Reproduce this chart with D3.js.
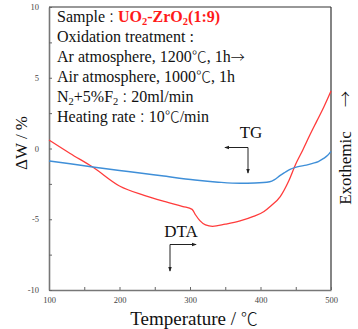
<!DOCTYPE html>
<html><head><meta charset="utf-8">
<script src="https://cdn.jsdelivr.net/npm/d3@7"></script>
<style>body{margin:0;background:#fff}svg{display:block}text{font-family:"Liberation Serif","Times New Roman",serif}.cj{font-family:"Noto Sans CJK JP";font-weight:300}</style>
</head><body><svg id="c" width="358" height="329"></svg>
<script>
const tgTemp = [100,130,162,200,229,260,307,340,371,392,413,420,428,435,442,452,465,474,482,489,495,500];
const tgVal  = [-0.88,-1.08,-1.31,-1.55,-1.73,-1.93,-2.23,-2.38,-2.46,-2.44,-2.35,-2.2,-1.9,-1.68,-1.47,-1.3,-1.17,-1.05,-0.93,-0.72,-0.5,-0.2];
const dtaTemp = [100,130,162,200,236,265,290,303,308,314,322,332,350,371,390,405,415,428,440,450,460,470,480,490,500];
const dtaVal  = [0.6,-0.35,-1.31,-2.65,-3.33,-3.76,-4.1,-4.3,-4.7,-5.1,-5.4,-5.5,-5.35,-5.12,-4.8,-4.45,-4.05,-3.4,-2.3,-1.1,-0.1,0.95,1.95,2.95,4.06];
const xTicks = [100,150,200,250,300,350,400,450,500];
const xLabels = [100,200,300,400,500];
const yTicks = [-10,-7.5,-5,-2.5,0,2.5,5,7.5,10];
const yLabels = [-10,-5,0,5,10];

const svg = d3.select("#c");
const L=49,R=331,T=7,B=290;
const x = d3.scaleLinear().domain([100,500]).range([L,R]);
const y = d3.scaleLinear().domain([-10,10]).range([B,T]);

svg.append("line").attr("x1",L).attr("x2",R).attr("y1",T).attr("y2",T).attr("stroke","#333").attr("stroke-width",1.2);
svg.append("line").attr("x1",R).attr("x2",R).attr("y1",T).attr("y2",B).attr("stroke","#333").attr("stroke-width",1.2);

const gx = svg.append("g").attr("transform",`translate(0,${B})`)
  .call(d3.axisBottom(x).tickValues(xTicks).tickSizeInner(-3).tickSizeOuter(0).tickFormat(d=>xLabels.includes(d)?String(d):""));
const gy = svg.append("g").attr("transform",`translate(${L},0)`)
  .call(d3.axisLeft(y).tickValues(yTicks).tickSizeInner(-3).tickSizeOuter(0).tickFormat(d=>yLabels.includes(d)?String(d):""));
[gx,gy].forEach(g=>{
  g.select(".domain").attr("stroke","#777").attr("stroke-width",1.6);
  g.selectAll(".tick line").attr("stroke","#666");
  g.selectAll(".tick text").attr("font-family","Liberation Serif, serif").attr("font-size",8.5).attr("fill","#444");
});
gx.selectAll(".tick text").attr("dy","1.15em");
gy.selectAll(".tick text").attr("x",-10);

const line = d3.line().x(d=>x(d[0])).y(d=>y(d[1])).curve(d3.curveMonotoneX);
svg.append("path").datum(dtaTemp.map((t,i)=>[t,dtaVal[i]])).attr("d",line)
  .attr("fill","none").attr("stroke","#ff3b3b").attr("stroke-width",1.3);
svg.append("path").datum(tgTemp.map((t,i)=>[t,tgVal[i]])).attr("d",line)
  .attr("fill","none").attr("stroke","#3f8fd8").attr("stroke-width",1.4);

const info = svg.append("g").attr("font-size",16).attr("fill","#111");
const t1 = info.append("text").attr("x",57).attr("y",22);
t1.append("tspan").text("Sample");
t1.append("tspan").text("：").attr("class","cj").attr("font-size",13);
const red = t1.append("tspan").attr("fill","#ff1a1a").attr("font-weight","bold");
red.append("tspan").text("UO");
red.append("tspan").text("2").attr("font-size",10.5).attr("dy",3);
red.append("tspan").text("-ZrO").attr("dy",-3);
red.append("tspan").text("2").attr("font-size",10.5).attr("dy",3);
red.append("tspan").text("(1:9)").attr("dy",-3);
info.append("text").attr("x",57).attr("y",42).text("Oxidation treatment :");
const t3 = info.append("text").attr("x",57).attr("y",62);
t3.append("tspan").text("Ar atmosphere, 1200");
t3.append("tspan").attr("class","cj").attr("font-size",15).text("℃");
t3.append("tspan").text(", 1h");
t3.append("tspan").attr("class","cj").attr("font-size",14).text("→");
const t4 = info.append("text").attr("x",57).attr("y",82);
t4.append("tspan").text("Air atmosphere, 1000");
t4.append("tspan").attr("class","cj").attr("font-size",15).text("℃");
t4.append("tspan").text(", 1h");
const t5 = info.append("text").attr("x",57).attr("y",102);
t5.append("tspan").text("N");
t5.append("tspan").text("2").attr("font-size",10.5).attr("dy",3);
t5.append("tspan").text("+5%F").attr("dy",-3);
t5.append("tspan").text("2").attr("font-size",10.5).attr("dy",3);
t5.append("tspan").text("：").attr("dy",-3).attr("class","cj").attr("font-size",13);
t5.append("tspan").text("20ml/min");
const t6 = info.append("text").attr("x",57).attr("y",122);
t6.append("tspan").text("Heating rate");
t6.append("tspan").text("：").attr("class","cj").attr("font-size",13);
t6.append("tspan").text("10");
t6.append("tspan").attr("class","cj").attr("font-size",15).text("℃");
t6.append("tspan").text("/min");

svg.append("defs").append("marker").attr("id","ah").attr("viewBox","0 0 6 6").attr("refX",5).attr("refY",3)
  .attr("markerWidth",5).attr("markerHeight",5).attr("orient","auto")
  .append("path").attr("d","M0,0.8L6,3L0,5.2Z").attr("fill","#222");
svg.append("text").attr("x",251).attr("y",138).attr("text-anchor","middle").attr("font-size",17).attr("fill","#111").text("TG");
svg.append("path").attr("d","M248,147.5L225,147.5").attr("stroke","#222").attr("fill","none").attr("marker-end","url(#ah)");
svg.append("path").attr("d","M248,147.5L248,173").attr("stroke","#222").attr("fill","none").attr("marker-end","url(#ah)");
svg.append("text").attr("x",181).attr("y",237).attr("text-anchor","middle").attr("font-size",17).attr("fill","#111").text("DTA");
svg.append("path").attr("d","M170,244.5L196,244.5").attr("stroke","#222").attr("fill","none").attr("marker-end","url(#ah)");
svg.append("path").attr("d","M170,244.5L170,271").attr("stroke","#222").attr("fill","none").attr("marker-end","url(#ah)");

const xt = svg.append("text").attr("x",194).attr("y",325).attr("text-anchor","middle").attr("font-size",19).attr("fill","#111");
xt.append("tspan").text("Temperature / ");
xt.append("tspan").attr("class","cj").attr("font-size",17).text("℃");
svg.append("text").attr("transform","translate(27,143) rotate(-90)").attr("text-anchor","middle").attr("font-size",17).attr("fill","#111").text("ΔW / %");
svg.append("text").attr("transform","translate(351,168) rotate(-90)").attr("text-anchor","middle").attr("font-size",17).attr("fill","#111").text("Exothemic");
svg.append("text").attr("transform","translate(351,99) rotate(-90)").attr("text-anchor","middle").attr("font-size",16).attr("class","cj").attr("fill","#111").text("→");
</script></body></html>
